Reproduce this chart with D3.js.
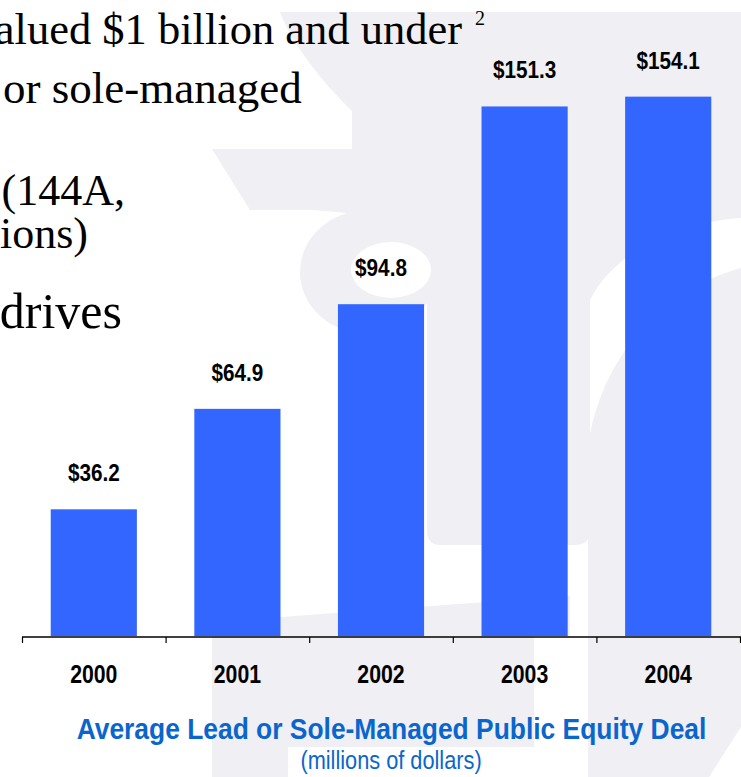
<!DOCTYPE html>
<html>
<head>
<meta charset="utf-8">
<script src="https://cdn.jsdelivr.net/npm/d3@7"></script>
<style>
  body { margin: 0; background: #fff; }
  svg { display: block; }
</style>
</head>
<body>
<div id="chart"></div>
<script>
// data
const years = ["2000", "2001", "2002", "2003", "2004"];
const dealValues = [36.2, 64.9, 94.8, 151.3, 154.1];
const chartTitle = "Average Lead or Sole-Managed Public Equity Deal";
const chartSubtitle = "(millions of dollars)";

// slide text behind the chart (cut off on the left)
const slideLines = [
  { text: "alued $1 billion and under", x: 462, y: 44, size: 44.5, anchor: "end" },
  { text: "or sole-managed", x: 3, y: 103, size: 45, anchor: "start" },
  { text: "(144A,", x: 125, y: 205, size: 44, anchor: "end" },
  { text: "ions)", x: 88, y: 248, size: 44, anchor: "end" },
  { text: "drives", x: 122, y: 328, size: 50, anchor: "end" }
];

const width = 741, height = 777;
const baseY = 637;

const svg = d3.select("#chart")
  .append("svg")
  .attr("width", width)
  .attr("height", height);

// faint logo watermark
const wm = svg.append("g").attr("fill", "#efeff4");
wm.append("path")
  .attr("d", "M280,12 H741 V218 C680,222 615,250 590,300 V530 Q590,545 575,545 H440 Q427,545 427,530 V300 C427,230 400,215 311,210 H250 L212,149 H352 V111 C320,80 290,40 280,12 Z");
wm.append("ellipse").attr("cx", 368).attr("cy", 272).attr("rx", 68).attr("ry", 62);
wm.append("path")
  .attr("d", "M212,622 L570,596 V636 H534 V747 H288 V777 H212 Z");
wm.append("path")
  .attr("d", "M741,268 C660,290 600,360 588,446 V777 H709 L741,727 Z");
svg.append("ellipse")
  .attr("cx", 391).attr("cy", 270).attr("rx", 40).attr("ry", 28)
  .attr("fill", "#fff");

// slide text
svg.append("g")
  .selectAll("text")
  .data(slideLines)
  .join("text")
  .attr("x", d => d.x)
  .attr("y", d => d.y)
  .attr("text-anchor", d => d.anchor)
  .attr("font-family", "'Liberation Serif', 'Times New Roman', serif")
  .attr("font-size", d => d.size)
  .attr("fill", "#000")
  .text(d => d.text);

svg.append("text")
  .attr("x", 475)
  .attr("y", 25)
  .attr("font-family", "'Liberation Serif', 'Times New Roman', serif")
  .attr("font-size", 20)
  .text("2");

// scales
const x = d3.scaleBand()
  .domain(years)
  .range([22, 740])
  .paddingInner(0.4)
  .paddingOuter(0.2);

const y = d3.scaleLinear()
  .domain([0, 160])
  .range([baseY - 1, 76]);

// bars
svg.append("g")
  .selectAll("rect")
  .data(years)
  .join("rect")
  .attr("x", d => x(d))
  .attr("y", (d, i) => y(dealValues[i]))
  .attr("width", x.bandwidth())
  .attr("height", (d, i) => y(0) - y(dealValues[i]))
  .attr("fill", "#3366ff");

// value labels
svg.append("g")
  .selectAll("text")
  .data(years)
  .join("text")
  .attr("transform", (d, i) => `translate(${x(d) + x.bandwidth() / 2},${y(dealValues[i]) - 28}) scale(0.9,1)`)
  .attr("text-anchor", "middle")
  .attr("font-family", "'Liberation Sans', Arial, sans-serif")
  .attr("font-weight", "bold")
  .attr("font-size", 23)
  .attr("fill", "#000")
  .text((d, i) => "$" + dealValues[i].toFixed(1));

// axis with ticks between categories
const edges = d3.scaleLinear().domain([0, years.length]).range([22, 740]);
const axisG = svg.append("g")
  .attr("transform", `translate(0,${baseY})`)
  .call(d3.axisBottom(edges).ticks(years.length).tickFormat("").tickSize(6).tickSizeOuter(0));
axisG.select(".domain").attr("stroke", "#000").attr("stroke-width", 1.5).attr("d", "M22,0H741");
axisG.selectAll(".tick line").attr("stroke", "#000").attr("stroke-width", 1.2);

// year labels
svg.append("g")
  .selectAll("text")
  .data(years)
  .join("text")
  .attr("transform", d => `translate(${x(d) + x.bandwidth() / 2},683) scale(0.85,1)`)
  .attr("text-anchor", "middle")
  .attr("font-family", "'Liberation Sans', Arial, sans-serif")
  .attr("font-weight", "bold")
  .attr("font-size", 25)
  .attr("fill", "#000")
  .text(d => d);

// titles
svg.append("text")
  .attr("transform", "translate(391.5,739) scale(0.88,1)")
  .attr("text-anchor", "middle")
  .attr("font-family", "'Liberation Sans', Arial, sans-serif")
  .attr("font-weight", "bold")
  .attr("font-size", 30)
  .attr("fill", "#0a66cc")
  .text(chartTitle);

svg.append("text")
  .attr("transform", "translate(391,769) scale(0.87,1)")
  .attr("text-anchor", "middle")
  .attr("font-family", "'Liberation Sans', Arial, sans-serif")
  .attr("font-size", 25)
  .attr("fill", "#0a66cc")
  .text(chartSubtitle);
</script>
</body>
</html>
